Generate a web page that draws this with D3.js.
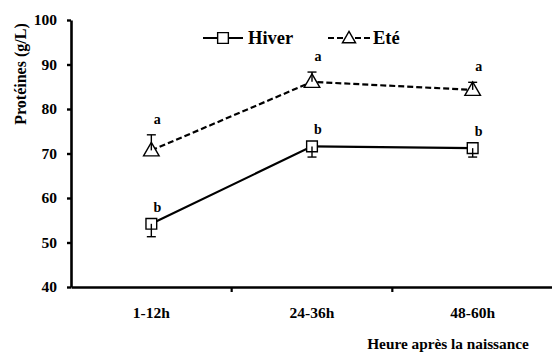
<!DOCTYPE html>
<html>
<head>
<meta charset="utf-8">
<script src="https://cdn.jsdelivr.net/npm/d3@7"></script>
<style>
  body { margin: 0; background: #fff; }
</style>
</head>
<body>
<div id="chart"></div>
<script>
const periods = ["1-12h", "24-36h", "48-60h"];
const yTicks = [40, 50, 60, 70, 80, 90, 100];

const hiverValues = [54.2, 71.6, 71.2];
const hiverErrors = [2.9, 2.4, 2.0];
const hiverLetters = ["b", "b", "b"];

const eteValues = [70.7, 86.1, 84.3];
const eteErrors = [3.5, 2.2, 1.7];
const eteLetters = ["a", "a", "a"];

const FONT = "'Liberation Serif', 'DejaVu Serif', 'Times New Roman', serif";
const width = 552, height = 353;
const margin = { top: 20, right: -1, bottom: 66, left: 71 };

const svg = d3.select("#chart").append("svg")
    .attr("width", width)
    .attr("height", height)
    .attr("font-family", FONT)
    .attr("font-weight", "bold");

const x = d3.scaleBand()
    .domain(periods)
    .range([margin.left, width - margin.right]);

const y = d3.scaleLinear()
    .domain([40, 100])
    .range([height - margin.bottom, margin.top]);

const cx = d => x(d) + x.bandwidth() / 2;

function styleText(sel, size) {
    sel.attr("font-family", FONT).attr("font-weight", "bold")
        .attr("font-size", size).attr("fill", "#000");
}

// axes
const yAxis = svg.append("g")
    .attr("transform", `translate(${margin.left},0)`)
    .call(d3.axisLeft(y).tickValues(yTicks).tickSize(4).tickPadding(10).tickSizeOuter(0));
yAxis.attr("font-family", FONT);
yAxis.select(".domain").attr("stroke-width", 2.6);
yAxis.selectAll(".tick line").attr("stroke-width", 2.4);
styleText(yAxis.selectAll(".tick text"), 15.5);

const xAxis = svg.append("g")
    .attr("transform", `translate(0,${y(40)})`)
    .call(d3.axisBottom(x).tickSize(0).tickPadding(20).tickSizeOuter(0));
xAxis.attr("font-family", FONT);
xAxis.select(".domain").attr("stroke-width", 2.6);
styleText(xAxis.selectAll(".tick text"), 15.5);
xAxis.selectAll(".sep")
    .data(periods.slice(1))
    .enter().append("line")
    .attr("x1", d => x(d)).attr("x2", d => x(d))
    .attr("y1", 0).attr("y2", 5)
    .attr("stroke", "#000").attr("stroke-width", 2.2);

svg.append("text")
    .attr("transform", "rotate(-90)")
    .attr("x", -74)
    .attr("y", 26)
    .attr("text-anchor", "middle")
    .call(styleText, 16)
    .text("Protéines (g/L)");

svg.append("text")
    .attr("x", 448)
    .attr("y", 349)
    .attr("text-anchor", "middle")
    .call(styleText, 15.3)
    .text("Heure après la naissance");

// lines
const line = d3.line().x((d, i) => cx(periods[i])).y(d => y(d));

svg.append("path").datum(eteValues)
    .attr("fill", "none").attr("stroke", "#000")
    .attr("stroke-width", 2.2).attr("stroke-dasharray", "6,3")
    .attr("d", line);

svg.append("path").datum(hiverValues)
    .attr("fill", "none").attr("stroke", "#000")
    .attr("stroke-width", 2.2)
    .attr("d", line);

// markers
const square = d3.symbol().type(d3.symbolSquare).size(115);
const triangle = d3.symbol().type(d3.symbolTriangle).size(105);
const legendTriangle = d3.symbol().type(d3.symbolTriangle).size(75);

svg.selectAll(".sq").data(hiverValues).enter().append("path")
    .attr("d", square)
    .attr("transform", (d, i) => `translate(${cx(periods[i])},${y(d)})`)
    .attr("fill", "#fff").attr("stroke", "#000").attr("stroke-width", 1.4);

svg.selectAll(".tri").data(eteValues).enter().append("path")
    .attr("d", triangle)
    .attr("transform", (d, i) => `translate(${cx(periods[i])},${y(d) + 1})`)
    .attr("fill", "#fff").attr("stroke", "#000").attr("stroke-width", 1.4);

// error bars
function errorBars(values, errors, dir) {
    const g = svg.append("g").attr("stroke", "#000").attr("stroke-width", 1.4);
    values.forEach((v, i) => {
        const px = cx(periods[i]);
        const end = y(v + dir * errors[i]);
        g.append("line").attr("x1", px).attr("x2", px).attr("y1", y(v)).attr("y2", end);
        g.append("line").attr("x1", px - 4.5).attr("x2", px + 4.5).attr("y1", end).attr("y2", end);
    });
}
errorBars(hiverValues, hiverErrors, -1);
errorBars(eteValues, eteErrors, 1);

// significance letters
svg.selectAll(".la").data(eteValues).enter().append("text")
    .attr("x", (d, i) => cx(periods[i]) + 6)
    .attr("y", (d, i) => y(d + eteErrors[i]) - 11)
    .attr("text-anchor", "middle")
    .call(styleText, 14)
    .text((d, i) => eteLetters[i]);

svg.selectAll(".lb").data(hiverValues).enter().append("text")
    .attr("x", (d, i) => cx(periods[i]) + 6)
    .attr("y", d => y(d) - 12)
    .attr("text-anchor", "middle")
    .call(styleText, 14)
    .text((d, i) => hiverLetters[i]);

// legend
const lg = svg.append("g").attr("transform", "translate(203,38)");
lg.append("line").attr("x1", 0).attr("x2", 40).attr("stroke", "#000").attr("stroke-width", 2.2);
lg.append("path").attr("d", square).attr("transform", "translate(20,0)")
    .attr("fill", "#fff").attr("stroke", "#000").attr("stroke-width", 1.4);
lg.append("text").attr("x", 45).attr("y", 6).call(styleText, 18.5).text("Hiver");

lg.append("line").attr("x1", 125).attr("x2", 168).attr("stroke", "#000")
    .attr("stroke-width", 2.2).attr("stroke-dasharray", "6,3");
lg.append("path").attr("d", legendTriangle).attr("transform", "translate(146,1)")
    .attr("fill", "#fff").attr("stroke", "#000").attr("stroke-width", 1.4);
lg.append("text").attr("x", 170).attr("y", 6).call(styleText, 18.5).text("Eté");
</script>
</body>
</html>
